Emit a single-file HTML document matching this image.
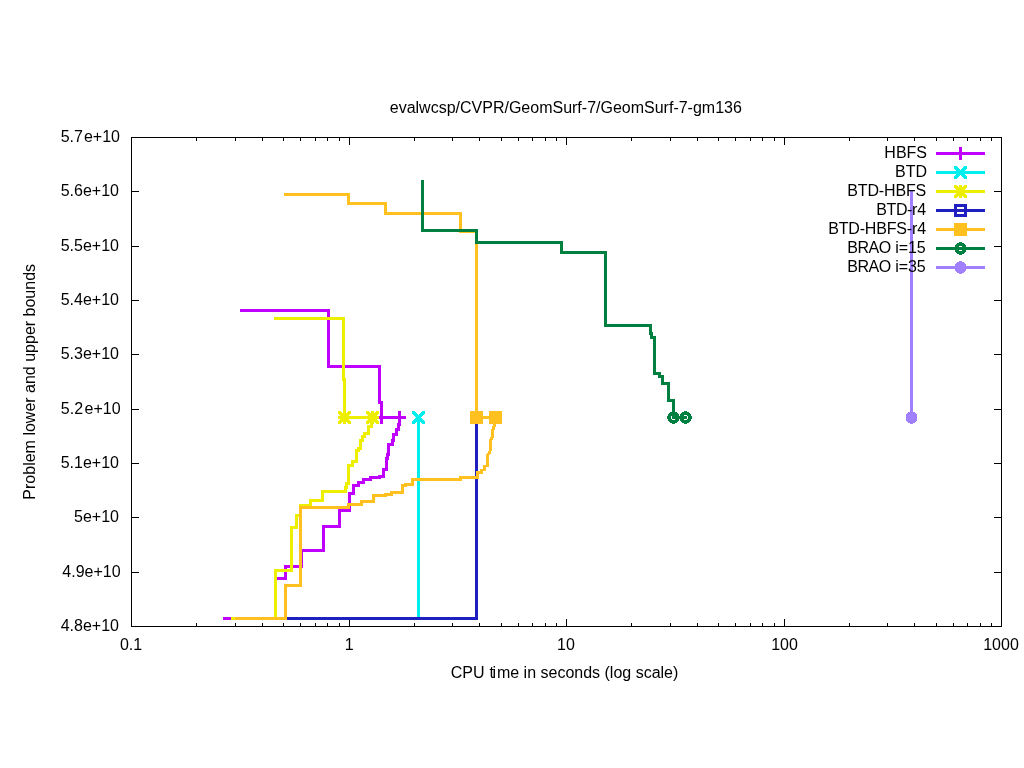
<!DOCTYPE html>
<html><head><meta charset="utf-8"><title>plot</title>
<style>
html,body{margin:0;padding:0;background:#fff;}
body{width:1024px;height:768px;overflow:hidden;}
svg{display:block;will-change:transform;}
text{font-family:"Liberation Sans",sans-serif;font-size:16px;fill:#000;}
.ln{fill:none;stroke-width:3;stroke-linejoin:miter;stroke-linecap:butt;shape-rendering:crispEdges;}
.ax{stroke:#000;stroke-width:1;fill:none;shape-rendering:crispEdges;}
.cr{shape-rendering:crispEdges;}
</style></head><body>
<svg width="1024" height="768" viewBox="0 0 1024 768">
<rect x="0" y="0" width="1024" height="768" fill="#ffffff"/>
<path class="ax" d="M131,626.5 h8 M1002,626.5 h-8 M131,572.5 h8 M1002,572.5 h-8 M131,517.5 h8 M1002,517.5 h-8 M131,463.5 h8 M1002,463.5 h-8 M131,409.5 h8 M1002,409.5 h-8 M131,354.5 h8 M1002,354.5 h-8 M131,300.5 h8 M1002,300.5 h-8 M131,246.5 h8 M1002,246.5 h-8 M131,191.5 h8 M1002,191.5 h-8 M131,137.5 h8 M1002,137.5 h-8 M131.5,627 v-8 M131.5,137 v8 M196.5,627 v-4 M196.5,137 v4 M235.5,627 v-4 M235.5,137 v4 M262.5,627 v-4 M262.5,137 v4 M283.5,627 v-4 M283.5,137 v4 M300.5,627 v-4 M300.5,137 v4 M315.5,627 v-4 M315.5,137 v4 M327.5,627 v-4 M327.5,137 v4 M339.5,627 v-4 M339.5,137 v4 M349.5,627 v-8 M349.5,137 v8 M414.5,627 v-4 M414.5,137 v4 M452.5,627 v-4 M452.5,137 v4 M479.5,627 v-4 M479.5,137 v4 M501.5,627 v-4 M501.5,137 v4 M518.5,627 v-4 M518.5,137 v4 M532.5,627 v-4 M532.5,137 v4 M545.5,627 v-4 M545.5,137 v4 M556.5,627 v-4 M556.5,137 v4 M566.5,627 v-8 M566.5,137 v8 M631.5,627 v-4 M631.5,137 v4 M670.5,627 v-4 M670.5,137 v4 M697.5,627 v-4 M697.5,137 v4 M718.5,627 v-4 M718.5,137 v4 M735.5,627 v-4 M735.5,137 v4 M750.5,627 v-4 M750.5,137 v4 M762.5,627 v-4 M762.5,137 v4 M774.5,627 v-4 M774.5,137 v4 M784.5,627 v-8 M784.5,137 v8 M849.5,627 v-4 M849.5,137 v4 M887.5,627 v-4 M887.5,137 v4 M914.5,627 v-4 M914.5,137 v4 M936.5,627 v-4 M936.5,137 v4 M953.5,627 v-4 M953.5,137 v4 M967.5,627 v-4 M967.5,137 v4 M980.5,627 v-4 M980.5,137 v4 M991.5,627 v-4 M991.5,137 v4 M1001.5,627 v-8 M1001.5,137 v8"/>
<rect class="ax" x="131.5" y="137.5" width="870" height="489"/>
<text x="119" y="631" text-anchor="end">4.8e+10</text>
<text x="120.6" y="577" text-anchor="end">4.9e+10</text>
<text x="119" y="522" text-anchor="end">5e+10</text>
<text x="119" y="468" text-anchor="end">5.1e+10</text>
<text x="120.6" y="414" text-anchor="end">5.2<tspan dx="1.5">e+10</tspan></text>
<text x="119" y="359" text-anchor="end">5.3e+10</text>
<text x="119" y="305" text-anchor="end">5.4e+10</text>
<text x="119" y="251" text-anchor="end">5.5e+10</text>
<text x="119" y="196" text-anchor="end">5.6e+10</text>
<text x="120" y="142" text-anchor="end">5.7<tspan dx="1">e+10</tspan></text>
<text x="131" y="650" text-anchor="middle">0.1</text>
<text x="349.2" y="650" text-anchor="middle">1</text>
<text x="566" y="650" text-anchor="middle">10</text>
<text x="784.5" y="650" text-anchor="middle">100</text>
<text x="1001" y="650" text-anchor="middle">1000</text>
<text x="565.8" y="113.4" text-anchor="middle">evalwcsp/CVPR/GeomSurf-7/GeomSurf-7-gm136</text>
<text x="564.5" y="678" text-anchor="middle">CPU <tspan dx="0.5">t</tspan><tspan dx="-1.3">i</tspan><tspan dx="0.8">me in seconds (log scale)</tspan></text>
<text transform="translate(35,381.8) rotate(-90)" text-anchor="middle">Problem lower and upper bounds</text>
<polyline class="ln" stroke="#c000ff" points="240,310.5 328.5,310.5 328.5,366.5 379.5,366.5 379.5,402.5 381.5,402.5 381.5,417.5"/>
<polyline class="ln" stroke="#c000ff" points="381.5,417.5 399.5,417.5"/>
<polyline class="ln" stroke="#c000ff" points="223,618.5 275.5,618.5 275.5,578.5 285.5,578.5 285.5,566.5 301.5,566.5 301.5,550.5 323.5,550.5 323.5,526.5 339.5,526.5 339.5,510.5 349.5,510.5 349.5,493.5 353.5,493.5 353.5,485.5 358.5,485.5 358.5,482.5 363.5,482.5 363.5,479.5 370.5,479.5 370.5,477.5 379.5,477.5 379.5,476.5 383.5,476.5 383.5,469.5 386.5,469.5 386.5,458.5 387.5,458.5 387.5,454.5 388.5,454.5 388.5,444.5 392.5,444.5 392.5,440.5 393.5,440.5 393.5,434.5 396.5,434.5 396.5,429.5 398.5,429.5 398.5,424.5 399.5,424.5 399.5,417.5"/>
<path class="cr" fill="#c000ff" d="M380,411h3v1h-3zM380,412h3v1h-3zM380,413h3v1h-3zM380,414h3v1h-3zM380,415h3v1h-3zM380,416h3v1h-3zM380,417h3v1h-3zM380,418h3v1h-3zM380,419h3v1h-3zM380,420h3v1h-3zM380,421h3v1h-3zM380,422h3v1h-3zM380,423h3v1h-3zM375,416h13v1h-13zM375,417h13v1h-13zM375,418h13v1h-13z"/>
<path class="cr" fill="#c000ff" d="M398,411h3v1h-3zM398,412h3v1h-3zM398,413h3v1h-3zM398,414h3v1h-3zM398,415h3v1h-3zM398,416h3v1h-3zM398,417h3v1h-3zM398,418h3v1h-3zM398,419h3v1h-3zM398,420h3v1h-3zM398,421h3v1h-3zM398,422h3v1h-3zM398,423h3v1h-3zM393,416h13v1h-13zM393,417h13v1h-13zM393,418h13v1h-13z"/>
<polyline class="ln" stroke="#00eeee" points="418.5,417.5 418.5,618.5"/>
<path class="cr" fill="#00eeee" d="M412,411h3v1h-3zM422,411h3v1h-3zM412,412h4v1h-4zM421,412h4v1h-4zM412,413h5v1h-5zM420,413h5v1h-5zM413,414h5v1h-5zM419,414h5v1h-5zM414,415h5v1h-5zM418,415h5v1h-5zM415,416h5v1h-5zM417,416h5v1h-5zM416,417h5v1h-5zM416,417h5v1h-5zM417,418h5v1h-5zM415,418h5v1h-5zM418,419h5v1h-5zM414,419h5v1h-5zM419,420h5v1h-5zM413,420h5v1h-5zM420,421h5v1h-5zM412,421h5v1h-5zM421,422h4v1h-4zM412,422h4v1h-4zM422,423h3v1h-3zM412,423h3v1h-3z"/>
<polyline class="ln" stroke="#eeee00" points="274,318.5 343.5,318.5 343.5,379.5 344.5,379.5 344.5,417.5"/>
<polyline class="ln" stroke="#eeee00" points="344.5,417.5 372.5,417.5"/>
<polyline class="ln" stroke="#eeee00" points="231,618.5 275.5,618.5 275.5,570.5 291.5,570.5 291.5,527.5 296.5,527.5 296.5,515.5 300.5,515.5 300.5,505.5 310.5,505.5 310.5,500.5 322.5,500.5 322.5,491.5 345.5,491.5 345.5,487.5 346.5,487.5 346.5,483.5 348.5,483.5 348.5,465.5 352.5,465.5 352.5,461.5 356.5,461.5 356.5,450.5 358.5,450.5 358.5,448.5 360.5,448.5 360.5,440.5 362.5,440.5 362.5,436.5 364.5,436.5 364.5,433.5 368.5,433.5 368.5,426.5 371.5,426.5 371.5,421.5 372.5,421.5 372.5,417.5"/>
<path class="cr" fill="#eeee00" d="M343,411h3v1h-3zM343,412h3v1h-3zM343,413h3v1h-3zM343,414h3v1h-3zM343,415h3v1h-3zM343,416h3v1h-3zM343,417h3v1h-3zM343,418h3v1h-3zM343,419h3v1h-3zM343,420h3v1h-3zM343,421h3v1h-3zM343,422h3v1h-3zM343,423h3v1h-3zM338,416h13v1h-13zM338,417h13v1h-13zM338,418h13v1h-13zM338,411h3v1h-3zM348,411h3v1h-3zM338,412h4v1h-4zM347,412h4v1h-4zM338,413h5v1h-5zM346,413h5v1h-5zM339,414h5v1h-5zM345,414h5v1h-5zM340,415h5v1h-5zM344,415h5v1h-5zM341,416h5v1h-5zM343,416h5v1h-5zM342,417h5v1h-5zM342,417h5v1h-5zM343,418h5v1h-5zM341,418h5v1h-5zM344,419h5v1h-5zM340,419h5v1h-5zM345,420h5v1h-5zM339,420h5v1h-5zM346,421h5v1h-5zM338,421h5v1h-5zM347,422h4v1h-4zM338,422h4v1h-4zM348,423h3v1h-3zM338,423h3v1h-3z"/>
<path class="cr" fill="#eeee00" d="M371,411h3v1h-3zM371,412h3v1h-3zM371,413h3v1h-3zM371,414h3v1h-3zM371,415h3v1h-3zM371,416h3v1h-3zM371,417h3v1h-3zM371,418h3v1h-3zM371,419h3v1h-3zM371,420h3v1h-3zM371,421h3v1h-3zM371,422h3v1h-3zM371,423h3v1h-3zM366,416h13v1h-13zM366,417h13v1h-13zM366,418h13v1h-13zM366,411h3v1h-3zM376,411h3v1h-3zM366,412h4v1h-4zM375,412h4v1h-4zM366,413h5v1h-5zM374,413h5v1h-5zM367,414h5v1h-5zM373,414h5v1h-5zM368,415h5v1h-5zM372,415h5v1h-5zM369,416h5v1h-5zM371,416h5v1h-5zM370,417h5v1h-5zM370,417h5v1h-5zM371,418h5v1h-5zM369,418h5v1h-5zM372,419h5v1h-5zM368,419h5v1h-5zM373,420h5v1h-5zM367,420h5v1h-5zM374,421h5v1h-5zM366,421h5v1h-5zM375,422h4v1h-4zM366,422h4v1h-4zM376,423h3v1h-3zM366,423h3v1h-3z"/>
<polyline class="ln" stroke="#2020c0" points="285,618.5 476.5,618.5 476.5,417.5"/>
<polyline class="ln" stroke="#ffc020" points="284,194.5 348.5,194.5 348.5,203.5 385.5,203.5 385.5,213.5 460.5,213.5 460.5,231.5 476.5,231.5 476.5,417.5"/>
<polyline class="ln" stroke="#ffc020" points="476.5,417.5 495.5,417.5"/>
<polyline class="ln" stroke="#ffc020" points="235,618.5 285.5,618.5 285.5,585.5 300.5,585.5 300.5,507.5 348.5,507.5 348.5,504.5 361.5,504.5 361.5,501.5 373.5,501.5 373.5,495.5 385.5,495.5 385.5,494.5 391.5,494.5 391.5,492.5 402.5,492.5 402.5,485.5 405.5,485.5 405.5,484.5 412.5,484.5 412.5,479.5 460.5,479.5 460.5,477.5 477.5,477.5 477.5,472.5 481.5,472.5 481.5,470.5 484.5,469.5 484.5,466.5 487.5,465.5 487.5,455.5 489.5,452.5 490.5,449.5 490.5,440.5 492.5,436.5 492.5,430.5 494.5,425.5 495.5,417.5"/>
<path class="cr" fill="#ffc020" d="M470,411h13v1h-13zM470,412h13v1h-13zM470,413h13v1h-13zM470,414h13v1h-13zM470,415h13v1h-13zM470,416h13v1h-13zM470,417h13v1h-13zM470,418h13v1h-13zM470,419h13v1h-13zM470,420h13v1h-13zM470,421h13v1h-13zM470,422h13v1h-13zM470,423h13v1h-13z"/>
<path class="cr" fill="#ffc020" d="M489,411h13v1h-13zM489,412h13v1h-13zM489,413h13v1h-13zM489,414h13v1h-13zM489,415h13v1h-13zM489,416h13v1h-13zM489,417h13v1h-13zM489,418h13v1h-13zM489,419h13v1h-13zM489,420h13v1h-13zM489,421h13v1h-13zM489,422h13v1h-13zM489,423h13v1h-13z"/>
<polyline class="ln" stroke="#008040" points="422.5,180 422.5,230.5 476.5,230.5 476.5,242.5 561.5,242.5 561.5,252.5 605.5,252.5 605.5,325.5 650.5,325.5 650.5,333.5 651.5,333.5 651.5,337.5 654.5,337.5 654.5,373.5 659.5,373.5 659.5,376.5 662.5,376.5 662.5,383.5 668.5,383.5 668.5,400.5 673.5,400.5 673.5,417.5 687,417.5"/>
<path class="cr" fill="#008040" d="M672,411h3v1h-3zM670,412h7v1h-7zM669,413h9v1h-9zM668,414h11v1h-11zM668,415h4v1h-4zM675,415h4v1h-4zM667,416h4v1h-4zM676,416h4v1h-4zM667,417h4v1h-4zM676,417h4v1h-4zM667,418h4v1h-4zM676,418h4v1h-4zM668,419h4v1h-4zM675,419h4v1h-4zM668,420h11v1h-11zM669,421h9v1h-9zM670,422h7v1h-7zM672,423h3v1h-3z"/>
<path class="cr" fill="#008040" d="M684,411h3v1h-3zM682,412h7v1h-7zM681,413h9v1h-9zM680,414h11v1h-11zM680,415h4v1h-4zM687,415h4v1h-4zM679,416h4v1h-4zM688,416h4v1h-4zM679,417h4v1h-4zM688,417h4v1h-4zM679,418h4v1h-4zM688,418h4v1h-4zM680,419h4v1h-4zM687,419h4v1h-4zM680,420h11v1h-11zM681,421h9v1h-9zM682,422h7v1h-7zM684,423h3v1h-3z"/>
<polyline class="ln" stroke="#a080ff" points="911.5,191 911.5,417.5"/>
<path class="cr" fill="#a080ff" d="M910,411h3v1h-3zM908,412h7v1h-7zM907,413h9v1h-9zM906,414h11v1h-11zM906,415h11v1h-11zM906,416h11v1h-11zM906,417h11v1h-11zM906,418h11v1h-11zM906,419h11v1h-11zM906,420h11v1h-11zM907,421h9v1h-9zM908,422h7v1h-7zM910,423h3v1h-3z"/>
<text x="927" y="158" text-anchor="end">HBFS</text>
<polyline class="ln" stroke="#c000ff" points="936,153.5 985,153.5"/>
<path class="cr" fill="#c000ff" d="M959,147h3v1h-3zM959,148h3v1h-3zM959,149h3v1h-3zM959,150h3v1h-3zM959,151h3v1h-3zM959,152h3v1h-3zM959,153h3v1h-3zM959,154h3v1h-3zM959,155h3v1h-3zM959,156h3v1h-3zM959,157h3v1h-3zM959,158h3v1h-3zM959,159h3v1h-3zM954,152h13v1h-13zM954,153h13v1h-13zM954,154h13v1h-13z"/>
<text x="927" y="177" text-anchor="end">BTD</text>
<polyline class="ln" stroke="#00eeee" points="936,172.5 985,172.5"/>
<path class="cr" fill="#00eeee" d="M954,166h3v1h-3zM964,166h3v1h-3zM954,167h4v1h-4zM963,167h4v1h-4zM954,168h5v1h-5zM962,168h5v1h-5zM955,169h5v1h-5zM961,169h5v1h-5zM956,170h5v1h-5zM960,170h5v1h-5zM957,171h5v1h-5zM959,171h5v1h-5zM958,172h5v1h-5zM958,172h5v1h-5zM959,173h5v1h-5zM957,173h5v1h-5zM960,174h5v1h-5zM956,174h5v1h-5zM961,175h5v1h-5zM955,175h5v1h-5zM962,176h5v1h-5zM954,176h5v1h-5zM963,177h4v1h-4zM954,177h4v1h-4zM964,178h3v1h-3zM954,178h3v1h-3z"/>
<text x="926" y="196" text-anchor="end"><tspan letter-spacing="-0.17">BTD-HBFS</tspan></text>
<polyline class="ln" stroke="#eeee00" points="936,191.5 985,191.5"/>
<path class="cr" fill="#eeee00" d="M959,185h3v1h-3zM959,186h3v1h-3zM959,187h3v1h-3zM959,188h3v1h-3zM959,189h3v1h-3zM959,190h3v1h-3zM959,191h3v1h-3zM959,192h3v1h-3zM959,193h3v1h-3zM959,194h3v1h-3zM959,195h3v1h-3zM959,196h3v1h-3zM959,197h3v1h-3zM954,190h13v1h-13zM954,191h13v1h-13zM954,192h13v1h-13zM954,185h3v1h-3zM964,185h3v1h-3zM954,186h4v1h-4zM963,186h4v1h-4zM954,187h5v1h-5zM962,187h5v1h-5zM955,188h5v1h-5zM961,188h5v1h-5zM956,189h5v1h-5zM960,189h5v1h-5zM957,190h5v1h-5zM959,190h5v1h-5zM958,191h5v1h-5zM958,191h5v1h-5zM959,192h5v1h-5zM957,192h5v1h-5zM960,193h5v1h-5zM956,193h5v1h-5zM961,194h5v1h-5zM955,194h5v1h-5zM962,195h5v1h-5zM954,195h5v1h-5zM963,196h4v1h-4zM954,196h4v1h-4zM964,197h3v1h-3zM954,197h3v1h-3z"/>
<text x="926" y="215" text-anchor="end"><tspan letter-spacing="-0.4">BTD-</tspan><tspan letter-spacing="-0.1">r4</tspan></text>
<polyline class="ln" stroke="#2020c0" points="936,210.5 985,210.5"/>
<path class="cr" fill="#2020c0" d="M954,204h13v1h-13zM954,205h13v1h-13zM954,206h13v1h-13zM954,207h13v1h-13zM954,208h13v1h-13zM954,209h13v1h-13zM954,210h13v1h-13zM954,211h13v1h-13zM954,212h13v1h-13zM954,213h13v1h-13zM954,214h13v1h-13zM954,215h13v1h-13zM954,216h13v1h-13z"/>
<path class="cr" fill="#fff" d="M957,207h7v1h-7zM957,208h7v1h-7zM957,212h7v1h-7zM957,213h7v1h-7z"/>
<text x="926" y="234" text-anchor="end"><tspan letter-spacing="-0.17">BTD-HBFS-</tspan><tspan letter-spacing="-0.1">r4</tspan></text>
<polyline class="ln" stroke="#ffc020" points="936,229.5 985,229.5"/>
<path class="cr" fill="#ffc020" d="M954,223h13v1h-13zM954,224h13v1h-13zM954,225h13v1h-13zM954,226h13v1h-13zM954,227h13v1h-13zM954,228h13v1h-13zM954,229h13v1h-13zM954,230h13v1h-13zM954,231h13v1h-13zM954,232h13v1h-13zM954,233h13v1h-13zM954,234h13v1h-13zM954,235h13v1h-13z"/>
<text x="925.5" y="253" text-anchor="end"><tspan letter-spacing="-0.45">BRAO</tspan><tspan letter-spacing="-0.1"> i=15</tspan></text>
<polyline class="ln" stroke="#008040" points="936,248.5 985,248.5"/>
<path class="cr" fill="#008040" d="M959,242h3v1h-3zM957,243h7v1h-7zM956,244h9v1h-9zM955,245h11v1h-11zM955,246h4v1h-4zM962,246h4v1h-4zM954,247h4v1h-4zM963,247h4v1h-4zM954,248h4v1h-4zM963,248h4v1h-4zM954,249h4v1h-4zM963,249h4v1h-4zM955,250h4v1h-4zM962,250h4v1h-4zM955,251h11v1h-11zM956,252h9v1h-9zM957,253h7v1h-7zM959,254h3v1h-3z"/>
<text x="925.5" y="272" text-anchor="end"><tspan letter-spacing="-0.45">BRAO</tspan><tspan letter-spacing="-0.1"> i=35</tspan></text>
<polyline class="ln" stroke="#a080ff" points="936,267.5 985,267.5"/>
<path class="cr" fill="#a080ff" d="M959,261h3v1h-3zM957,262h7v1h-7zM956,263h9v1h-9zM955,264h11v1h-11zM955,265h11v1h-11zM955,266h11v1h-11zM955,267h11v1h-11zM955,268h11v1h-11zM955,269h11v1h-11zM955,270h11v1h-11zM956,271h9v1h-9zM957,272h7v1h-7zM959,273h3v1h-3z"/>
</svg>
</body></html>
